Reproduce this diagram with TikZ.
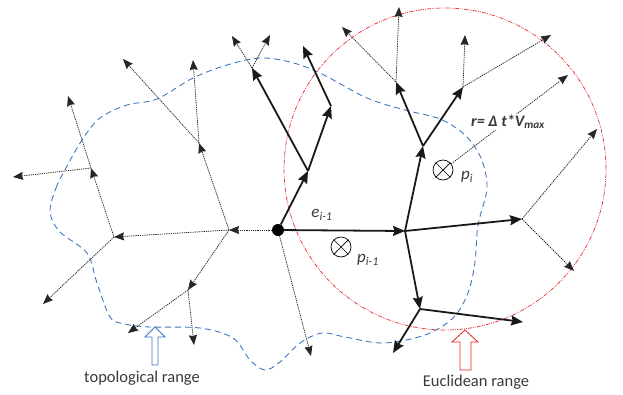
\documentclass[tikz,border=0pt]{standalone}
\usepackage{fontspec}
\setmainfont{Carlito}
\usepackage{tikz}
\usetikzlibrary{arrows.meta, positioning}
\definecolor{rangeblue}{HTML}{3F78C1}
\definecolor{rangered}{HTML}{E8262A}
\definecolor{labelgray}{HTML}{3A3A3A}

\begin{document}
\begin{tikzpicture}[x=1pt, y=-1pt,
    thickarr/.style={-{Stealth[inset=1.5pt, length=12pt, width=10pt]}, line width=1.8pt, black!90},
    dotarr/.style={-{Stealth[inset=1pt, length=10pt, width=8pt]}, line width=0.75pt, dash pattern=on 1.3pt off 0.9pt, black!85},
    dotnode/.style={circle, fill=black, inner sep=0pt, minimum size=12pt},
    otimes/.style={circle, draw=black, line width=0.7pt, inner sep=0pt, minimum size=20pt},
    lbl/.style={font=\fontsize{17}{19}\selectfont\itshape, text=labelgray, inner sep=1pt},
    rlbl/.style={font=\fontsize{16}{18}\selectfont\bfseries\itshape, text=labelgray, fill=white, inner sep=1pt},
    rangelbl/.style={font=\fontsize{16.5}{19}\selectfont, text=labelgray, inner sep=1pt}
  ]
    \useasboundingbox (0,0) rectangle (623,394);
    % ranges
    \draw[rangeblue, line width=0.9pt, dash pattern=on 6pt off 4pt] plot[smooth cycle, tension=0.55] coordinates {
      (50,212) (56,188) (66,168) (82,140) (100,118) (127,105) (157,99) (193,78) (227,65) (260,58) (290,62) (320,73)
      (367,98) (405,110) (440,119) (465,135) (481,158) (487,188) (478,225) (475,262) (468,293) (453,318) (425,335)
      (383,343) (345,337) (322,333) (300,343) (280,362) (265,370) (250,360) (233,338) (200,328) (150,327) (125,324)
      (110,317) (97,283) (87,253) (60,232)};
    \draw[rangered, line width=0.7pt, dash pattern=on 4pt off 1.2pt on 0.8pt off 1.2pt on 0.8pt off 1.2pt] (445,169) circle[radius=161pt];
    % points
    \node[dotnode] (d) at (278,230) {};
    \coordinate (j1) at (405,231);
    \coordinate (j2) at (420,309);
    \coordinate (j3) at (423,146);
    \coordinate (j4) at (396,82);
    \coordinate (j5) at (463,87);
    \coordinate (e1) at (522,219);
    \coordinate (t1) at (308,171);
    \coordinate (t2) at (331,106);
    \coordinate (t3) at (252,68);
    \coordinate (l1) at (229,230);
    \coordinate (l2) at (114,237);
    \coordinate (l3) at (188,290);
    \coordinate (l4) at (91,168);
    \coordinate (l5) at (199,143);
    \coordinate (j2a) at (523,322);
    \coordinate (j2b) at (393,353);
    \coordinate (t2a) at (303,46);
    \coordinate (e1a) at (597,129);
    \coordinate (e1b) at (574,271);
    \coordinate (j4a) at (399,7);
    \coordinate (j4b) at (342,27);
    \coordinate (j5a) at (465,35);
    \coordinate (j5b) at (551,35);
    \coordinate (t3a) at (232,36);
    \coordinate (t3b) at (270,35);
    \coordinate (da) at (311,356);
    \coordinate (l5a) at (193,60);
    \coordinate (l5b) at (123,59);
    \coordinate (l2a) at (43,304);
    \coordinate (l4a) at (68,96);
    \coordinate (l4b) at (13,177);
    \coordinate (l3a) at (128,333);
    \coordinate (l3b) at (194,345);
    \coordinate (rtip) at (568,75);
    % thick edges
    \draw[thickarr] (d) -- (j1);
    \draw[thickarr] (j1) -- (e1);
    \draw[thickarr] (j1) -- (j2);
    \draw[thickarr] (j2) -- (j2a);
    \draw[thickarr] (j2) -- (j2b);
    \draw[thickarr] (j1) -- (j3);
    \draw[thickarr] (j3) -- (j4);
    \draw[thickarr] (j3) -- (j5);
    \draw[thickarr] (d) -- (t1);
    \draw[thickarr] (t1) -- (t3);
    \draw[thickarr] (t1) -- (t2);
    \draw[thickarr] (t2) -- (t2a);
    % dotted edges
    \draw[dotarr] (e1) -- (e1a);
    \draw[dotarr] (e1) -- (e1b);
    \draw[dotarr] (j4) -- (j4a);
    \draw[dotarr] (j4) -- (j4b);
    \draw[dotarr] (j5) -- (j5a);
    \draw[dotarr] (j5) -- (j5b);
    \draw[dotarr] (t3) -- (t3a);
    \draw[dotarr] (t3) -- (t3b);
    \draw[dotarr] (d) -- (l1);
    \draw[dotarr] (d) -- (da);
    \draw[dotarr] (l1) -- (l2);
    \draw[dotarr] (l1) -- (l3);
    \draw[dotarr] (l1) -- (l5);
    \draw[dotarr] (l5) -- (l5a);
    \draw[dotarr] (l5) -- (l5b);
    \draw[dotarr] (l2) -- (l4);
    \draw[dotarr] (l2) -- (l2a);
    \draw[dotarr] (l4) -- (l4a);
    \draw[dotarr] (l4) -- (l4b);
    \draw[dotarr] (l3) -- (l3a);
    \draw[dotarr] (l3) -- (l3b);
    % positions
    \node[otimes] (pim) at (341,247) {};
    \draw[line width=0.7pt] (pim.north west) -- (pim.south east) (pim.north east) -- (pim.south west);
    \node[otimes] (pi) at (443,170) {};
    \draw[line width=0.7pt] (pi.north west) -- (pi.south east) (pi.north east) -- (pi.south west);
    \draw[dotarr] (pi) -- (rtip);
    \node[rlbl] (rlab) at (508,122) {r= Δ t*V\textsubscript{max}};
    \node[lbl] (elab) at (322,215) {e\textsubscript{i-1}};
    \node[lbl] (pimlab) at (368,260) {p\textsubscript{i-1}};
    \node[lbl] (pilab) at (467,177) {p\textsubscript{i}};
    % range markers
    \draw[rangeblue, fill=white, line width=0.8pt] (155,327) -- (165,337) -- (158,337) -- (158,365) -- (152,365) -- (152,337) -- (145,337) -- cycle;
    \draw[rangered, fill=white, line width=0.8pt] (465,330) -- (478,342) -- (471,342) -- (471,370) -- (460,370) -- (460,342) -- (452,342) -- cycle;
    \node[rangelbl] (toplab) at (142,378) {topological range};
    \node[rangelbl] (euclab) at (476,382) {Euclidean range};
\end{tikzpicture}
\end{document}
